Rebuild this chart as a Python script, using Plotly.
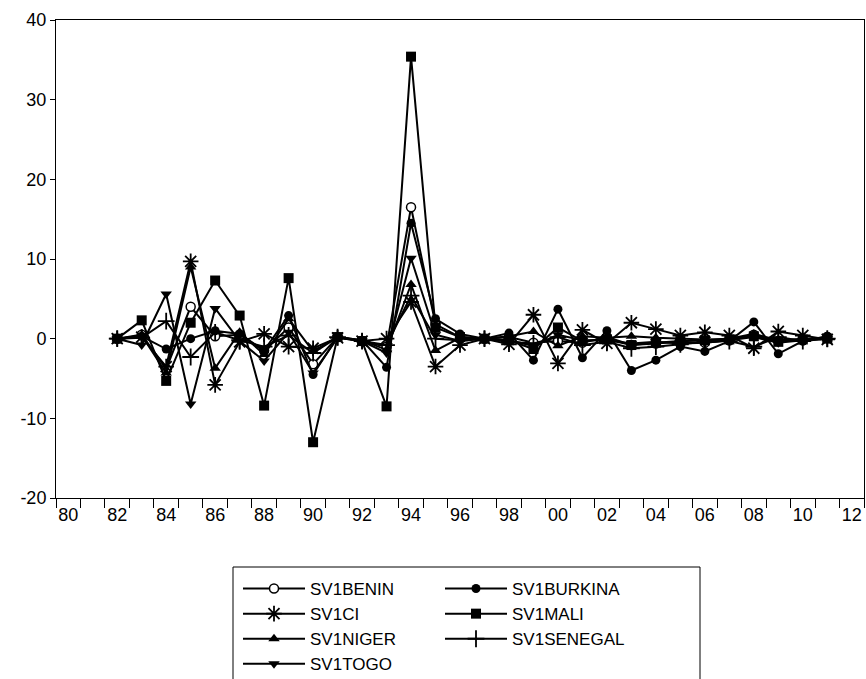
import plotly.graph_objects as go

years = list(range(1982, 2012))
tick_years = list(range(1980, 2013, 2))
tick_labels = [f"{y % 100:02d}" for y in tick_years]
y_ticks = [-20, -10, 0, 10, 20, 30, 40]
y_labels = ["-20", "-10", "0", "10", "20", "30", "40"]

sv1benin = [0, 0.5, -3.8, 4.0, 0.3, 0.5, -1.5, 1.4, -3.2, 0.2, -0.3, -1.0, 16.5, 1.8, 0.2, 0,
            0.2, -0.5, -0.3, -0.5, 0.2, -0.8, -0.6, -0.4, -0.5, -0.2, 0.5, -0.3, -0.2, 0.2]
sv1burkina = [0, 0.3, -1.3, 0, 1.0, 0.6, -1.5, 2.9, -4.5, 0.2, -0.2, -3.6, 14.5, 2.5, 0.6, 0,
              0.7, -2.7, 3.7, -2.4, 1.0, -4.0, -2.7, -1.0, -1.6, -0.3, 2.1, -1.9, -0.3, 0.3]
sv1ci = [0, 0.2, -3.5, 9.7, -5.8, -0.4, 0.6, -1.0, -1.2, 0.1, -0.3, 0, 4.6, -3.5, -0.8, 0,
         -0.7, 3.0, -3.1, 1.1, -0.6, 2.0, 1.2, 0.4, 0.8, 0.4, -1.2, 0.9, 0.4, -0.1]
sv1mali = [0, 2.3, -5.3, 2.0, 7.3, 2.9, -8.4, 7.6, -13.0, 0.2, -0.3, -8.5, 35.4, 1.4, 0.2, 0,
           -0.2, -1.3, 1.4, -0.3, -0.1, -0.8, -0.5, -0.3, -0.2, -0.1, 0.3, -0.4, -0.1, 0]
sv1niger = [0, 0.4, -4.3, 9.0, -3.7, 0.8, -2.0, 2.5, -1.6, 0.2, -0.2, -1.4, 6.8, -1.5, 0.1, 0,
            0.3, 0.9, -0.9, 0.3, 0.1, 0.3, 0.1, 0, -0.1, 0, 0.6, -0.2, 0, 0]
sv1senegal = [0, 0.1, 2.2, -2.3, 0.8, -0.2, -1.0, 0.4, -1.8, 0.2, -0.3, -0.8, 5.4, 0, -0.2, 0,
              -0.4, -0.6, 0.2, -0.8, -0.4, -1.2, -1.0, -0.7, -0.4, -0.3, -1.0, 0.2, -0.3, 0]
sv1togo = [0, -0.8, 5.6, -8.2, 3.8, -0.3, -2.8, 0.8, -4.3, 0.1, -0.3, -1.8, 10.1, 0.5, -0.3, 0,
           -0.2, -0.9, 0.5, -0.2, -0.2, -0.6, -0.4, -0.6, -0.5, -0.2, 0.2, -0.5, -0.2, 0]

# (name, values, marker, legend column)
series = [
    ("SV1BENIN", sv1benin, dict(symbol="circle", color="white", size=9,
                                line=dict(color="black", width=1.5)), "legend"),
    ("SV1BURKINA", sv1burkina, dict(symbol="circle", color="black", size=9), "legend2"),
    ("SV1CI", sv1ci, dict(symbol="asterisk-open", color="black", size=13,
                          line=dict(color="black", width=1.8)), "legend"),
    ("SV1MALI", sv1mali, dict(symbol="square", color="black", size=10), "legend2"),
    ("SV1NIGER", sv1niger, dict(symbol="triangle-up", color="black", size=10), "legend"),
    ("SV1SENEGAL", sv1senegal, dict(symbol="cross-thin-open", color="black", size=12,
                                    line=dict(color="black", width=1.8)), "legend2"),
    ("SV1TOGO", sv1togo, dict(symbol="triangle-down", color="black", size=10), "legend"),
]

fig = go.Figure()
for name, vals, mk, lg in series:
    fig.add_trace(go.Scatter(
        x=years, y=vals, name=name, mode="lines+markers",
        line=dict(color="black", width=2), marker=mk, legend=lg,
    ))

fam = "Liberation Sans, Arial, sans-serif"
tickfont = dict(family=fam, size=18, color="black")

# geometry in page pixels (body margin removed below)
FW, FH = 866, 679
L, T, W, H = 56, 20, 808, 478
def px_x(x):
    return (x - L) / W
def px_y(y):
    return 1 - (y - T) / H

# legend frame (extends past the bottom edge, as in the reference)
fig.add_shape(type="rect", xref="paper", yref="paper",
              x0=px_x(233), x1=px_x(700), y0=px_y(567), y1=px_y(760),
              line=dict(color="black", width=1), fillcolor="rgba(0,0,0,0)",
              layer="above")

legend_common = dict(
    orientation="v", xanchor="left", yanchor="top",
    borderwidth=0, bgcolor="rgba(0,0,0,0)",
    itemwidth=62, tracegroupgap=0,
    font=dict(family=fam, size=17, color="black"),
)

fig.update_layout(
    width=FW, height=FH,
    margin=dict(l=L, r=FW - L - W, t=T, b=FH - T - H, autoexpand=False),
    paper_bgcolor="white", plot_bgcolor="white",
    font=dict(family=fam, size=18, color="black"),
    showlegend=True,
    legend=dict(x=px_x(238), y=px_y(571), **legend_common),
    legend2=dict(x=px_x(440), y=px_y(571), **legend_common),
    xaxis=dict(
        range=[1979.5, 2012.5],
        tickmode="array", tickvals=tick_years, ticktext=tick_labels,
        ticks="", showgrid=False, zeroline=False,
        showline=True, linecolor="black", linewidth=1, mirror=True,
        minor=dict(tick0=1979.5, dtick=1, ticks="outside", ticklen=9,
                   tickcolor="black", tickwidth=1, showgrid=False),
        tickfont=tickfont, automargin=False,
    ),
    yaxis=dict(
        range=[-20, 40], tickmode="array", tickvals=y_ticks, ticktext=y_labels,
        ticks="outside", ticklen=5, tickcolor="black",
        showgrid=False, zeroline=False,
        showline=True, linecolor="black", linewidth=1, mirror=True,
        tickfont=tickfont, automargin=False,
    ),
)

fig.write_html("out.html",
               config={"displayModeBar": False},
               post_script="document.body.style.margin='0';document.body.style.overflow='hidden';")
